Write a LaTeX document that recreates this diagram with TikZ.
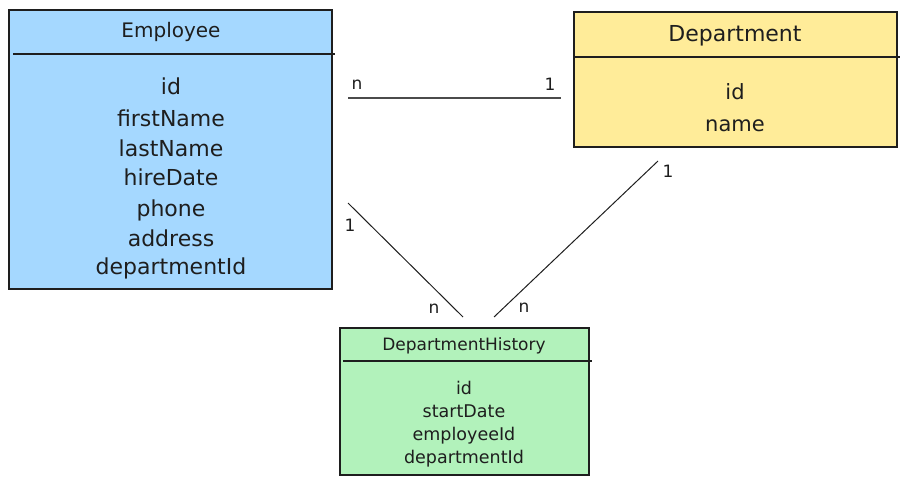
\documentclass[tikz,border=0pt]{standalone}
\usepackage{fontspec}
\setmainfont{DejaVu Sans}
\definecolor{ink}{HTML}{1E1E1E}
\definecolor{empfill}{HTML}{A5D8FF}
\definecolor{depfill}{HTML}{FFEC99}
\definecolor{histfill}{HTML}{B2F2BB}
\begin{document}
\begin{tikzpicture}[x=1pt,y=-1pt,
  entity/.style={draw=ink, line width=1.3pt, rectangle, anchor=north west, inner sep=0pt, outer sep=0pt},
  sepline/.style={draw=ink, line width=1.1pt},
  big/.style={font=\fontsize{22}{26}\selectfont, text=ink, anchor=base, inner sep=0pt},
  small/.style={font=\fontsize{17.5}{20}\selectfont, text=ink, anchor=base, inner sep=0pt},
  card/.style={font=\fontsize{17}{20}\selectfont, text=ink, inner sep=0pt},
  rel/.style={draw=ink, line width=1pt}
]
\useasboundingbox (0,0) rectangle (909,485);

% Employee
\node[entity, fill=empfill, minimum width=323pt, minimum height=279pt] (emp) at (9,10) {};
\draw[sepline] (13,54) -- (335,54);
\node[big, font=\fontsize{20}{24}\selectfont] (empT) at (171,37) {Employee};
\foreach \t/\yy [count=\i] in {id/94, firstName/126, lastName/156, hireDate/185, phone/216, address/246, departmentId/274}
  \node[big] (empA\i) at (171,\yy) {\t};

% Department
\node[entity, fill=depfill, minimum width=323pt, minimum height=135pt] (dep) at (574,12) {};
\draw[sepline] (574,57) -- (900,57);
\node[big] (depT) at (735,41) {Department};
\node[big, font=\fontsize{21}{24}\selectfont] (depA1) at (735,99) {id};
\node[big, font=\fontsize{21}{24}\selectfont] (depA2) at (735,131) {name};

% DepartmentHistory
\node[entity, fill=histfill, minimum width=249pt, minimum height=147pt] (dh) at (340,328) {};
\draw[sepline] (343,361) -- (592,361);
\node[small, font=\fontsize{17}{20}\selectfont] (dhT) at (464,350) {DepartmentHistory};
\foreach \t/\yy [count=\i] in {id/394, startDate/417, employeeId/440, departmentId/463}
  \node[small] (dhA\i) at (464,\yy) {\t};

% connectors
\coordinate (r1a) at (348,98);
\coordinate (r1b) at (561,98);
\draw[rel, line width=1.6pt, draw=ink!80] (r1a) -- (r1b);
\node[card] (r1n) at (357,85) {n};
\node[card] (r1one) at (550,84) {1};

\coordinate (r2a) at (348,203);
\coordinate (r2b) at (463,317);
\draw[rel] (r2a) -- (r2b);
\node[card] (r2one) at (350,225) {1};
\node[card] (r2n) at (434,309) {n};

\coordinate (r3a) at (658,161);
\coordinate (r3b) at (494,317);
\draw[rel] (r3a) -- (r3b);
\node[card] (r3one) at (668,171) {1};
\node[card] (r3n) at (524,308) {n};
\end{tikzpicture}
\end{document}
